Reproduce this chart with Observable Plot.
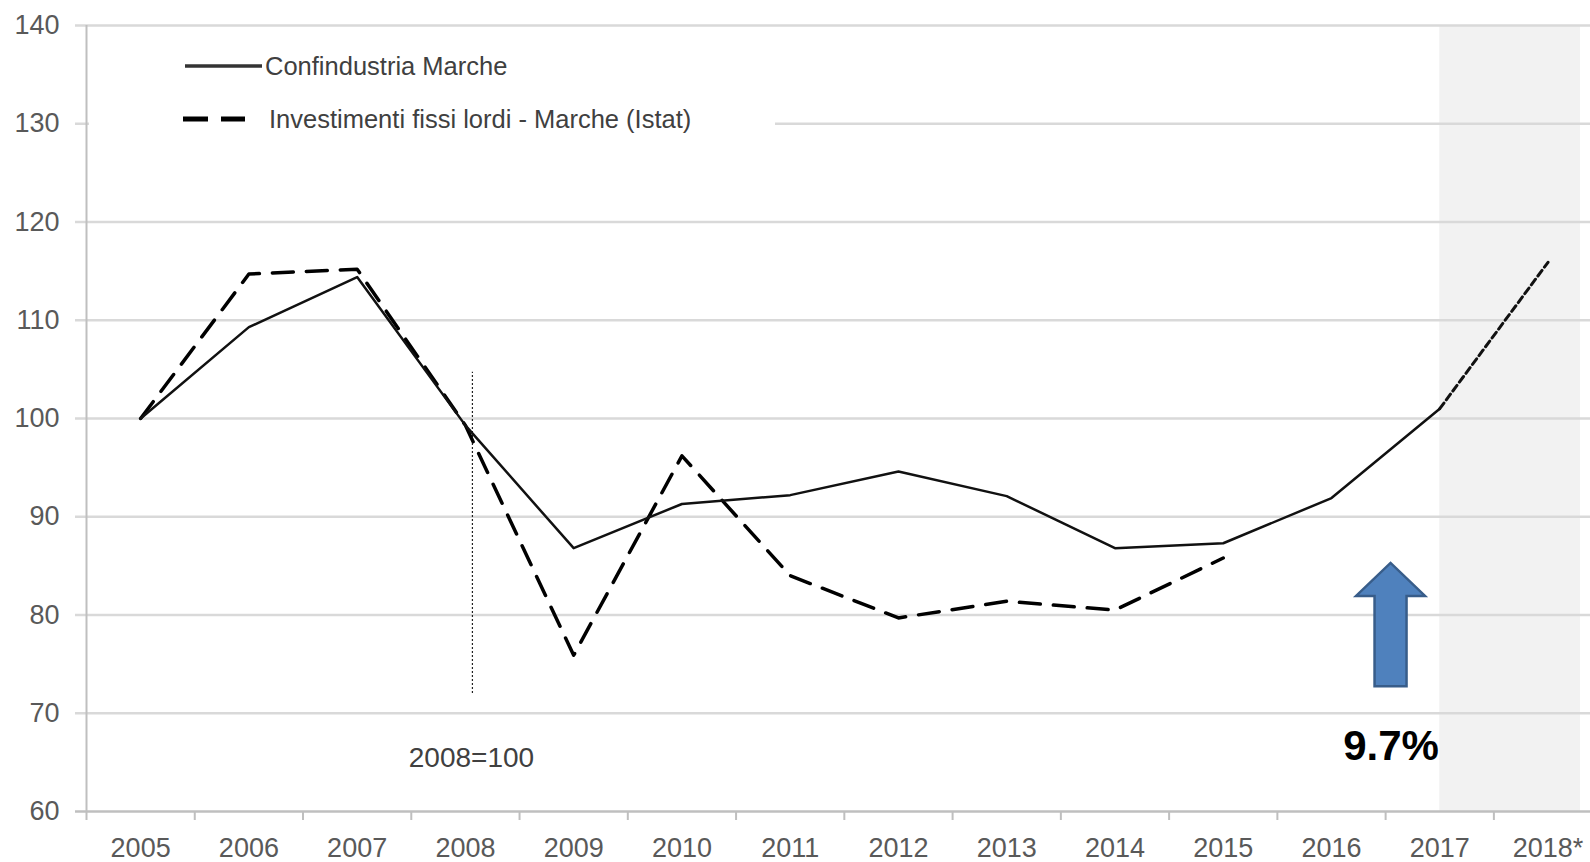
<!DOCTYPE html>
<html>
<head>
<meta charset="utf-8">
<script src="https://cdn.jsdelivr.net/npm/d3@7"></script>
<script src="https://cdn.jsdelivr.net/npm/@observablehq/plot@0.6"></script>
<style>
  html, body { margin: 0; padding: 0; background: white; }
  #wrap { position: relative; width: 1590px; height: 862px; overflow: hidden; background: white; }
  #legend { position: absolute; left: 89px; top: 38px; width: 686px; height: 130px; background: white; }
  #legend text { font-family: "Liberation Sans", Arial, sans-serif; font-size: 25.5px; fill: #404040; }
</style>
</head>
<body>
<div id="wrap">
  <div id="chart"></div>
  <div id="legend"></div>
</div>
<script>
// ---- data ----
const years = ["2005","2006","2007","2008","2009","2010","2011","2012","2013","2014","2015","2016","2017","2018*"];
const confindustria = [100, 109.3, 114.4, 99.3, 86.8, 91.3, 92.2, 94.6, 92.1, 86.8, 87.3, 91.9, 101.0, null];
const forecast = [null, null, null, null, null, null, null, null, null, null, null, null, 101.0, 115.9];
const istat = [100, 114.7, 115.2, 99.3, 75.9, 96.2, 84.0, 79.7, 81.4, 80.5, 85.8, null, null, null];
const yTicks = [60, 70, 80, 90, 100, 110, 120, 130, 140];
const seriesNames = ["Confindustria Marche", "Investimenti fissi lordi - Marche (Istat)"];
const baseYear = "2008";
const baseNote = "2008=100";
const baseRule = {from: 72, to: 104.7};
const shadeFrom = "2017";
const growthLabel = "9.7%";
const growthArrow = {x: 11.55, from: 72.7, to: 85.25, label: 66.6};

// ---- table ----
const rows = years.map((year, i) => ({i, year, conf: confindustria[i], fc: forecast[i], istat: istat[i]}));
const xDomain = [-0.5, 13.3];
const bounds = years.map((d, i) => i - 0.5);
const baseIdx = years.indexOf(baseYear);

const font = "Liberation Sans, Arial, sans-serif";

const arrowMark = (index, scales) => {
  const x = scales.x, y = scales.y;
  const cx = x(growthArrow.x), yb = y(growthArrow.from), yt = y(growthArrow.to);
  const sw = 16, hw = 34.5, hl = 33;
  const d = `M${cx - sw},${yb}L${cx - sw},${yt + hl}L${cx - hw},${yt + hl}L${cx},${yt}L${cx + hw},${yt + hl}L${cx + sw},${yt + hl}L${cx + sw},${yb}Z`;
  return d3.create("svg:path").attr("d", d).attr("fill", "#4f81bd")
    .attr("stroke", "#385d8a").attr("stroke-width", 2.5).node();
};

const chart = Plot.plot({
  width: 1590,
  height: 862,
  marginLeft: 86,
  marginRight: 0,
  marginTop: 25,
  marginBottom: 51,
  style: {fontFamily: font, fontSize: "27px", background: "white", color: "#595959"},
  x: {type: "linear", domain: xDomain, range: [86, 1580], axis: null},
  y: {domain: [60, 140], axis: null},
  marks: [
    Plot.rect([{x1: years.indexOf(shadeFrom), x2: xDomain[1]}], {x1: "x1", x2: "x2", y1: 60, y2: 140, fill: "#f2f2f2"}),
    Plot.ruleY(yTicks.filter(d => d !== 60), {stroke: "#d9d9d9", strokeWidth: 2.5, insetLeft: -11}),
    Plot.ruleY([60], {stroke: "#bfbfbf", strokeWidth: 2.5, insetLeft: -11}),
    Plot.ruleX([xDomain[0]], {y1: 60, y2: 140, stroke: "#bfbfbf", strokeWidth: 2}),
    Plot.ruleX(bounds, {y1: 60, y2: 60, insetBottom: -9, stroke: "#bfbfbf", strokeWidth: 2}),
    Plot.ruleX([baseRule], {x: () => baseIdx, y1: "from", y2: "to", dx: 7, stroke: "#222", strokeWidth: 1.2, strokeDasharray: "2,2"}),
    Plot.line(rows, {x: "i", y: "istat", stroke: "black", strokeWidth: 3.5, strokeDasharray: "21,13", strokeLinejoin: "round"}),
    Plot.line(rows, {x: "i", y: "conf", stroke: "#111", strokeWidth: 2.5, strokeLinejoin: "round"}),
    Plot.line(rows, {x: "i", y: "fc", stroke: "#111", strokeWidth: 3, strokeDasharray: "7,4"}),
    arrowMark,
    Plot.text([growthLabel], {x: growthArrow.x, y: growthArrow.label, text: d => d, fontSize: 42, fontWeight: "bold", fill: "black"}),
    Plot.text([baseNote], {x: baseIdx, y: 65.4, dx: 6, text: d => d, fontSize: 28, fill: "#404040"}),
    Plot.text(yTicks, {y: d => d, text: d => String(d), frameAnchor: "left", dx: -27, textAnchor: "end", fontSize: 27, fill: "#595959"}),
    Plot.text(rows, {x: "i", text: "year", frameAnchor: "bottom", dy: 45, fontSize: 27, fill: "#595959"})
  ]
});
document.getElementById("chart").appendChild(chart);

// ---- legend ----
const leg = d3.select("#legend").append("svg").attr("width", 686).attr("height", 130);
leg.append("line").attr("x1", 96).attr("x2", 173).attr("y1", 28).attr("y2", 28)
  .attr("stroke", "#333").attr("stroke-width", 3.5);
leg.append("text").attr("x", 176).attr("y", 28).attr("dominant-baseline", "central").text(seriesNames[0]);
leg.append("line").attr("x1", 94).attr("x2", 156).attr("y1", 81).attr("y2", 81)
  .attr("stroke", "black").attr("stroke-width", 5).attr("stroke-dasharray", "25,13");
leg.append("text").attr("x", 180).attr("y", 81).attr("dominant-baseline", "central").text(seriesNames[1]);
</script>
</body>
</html>
